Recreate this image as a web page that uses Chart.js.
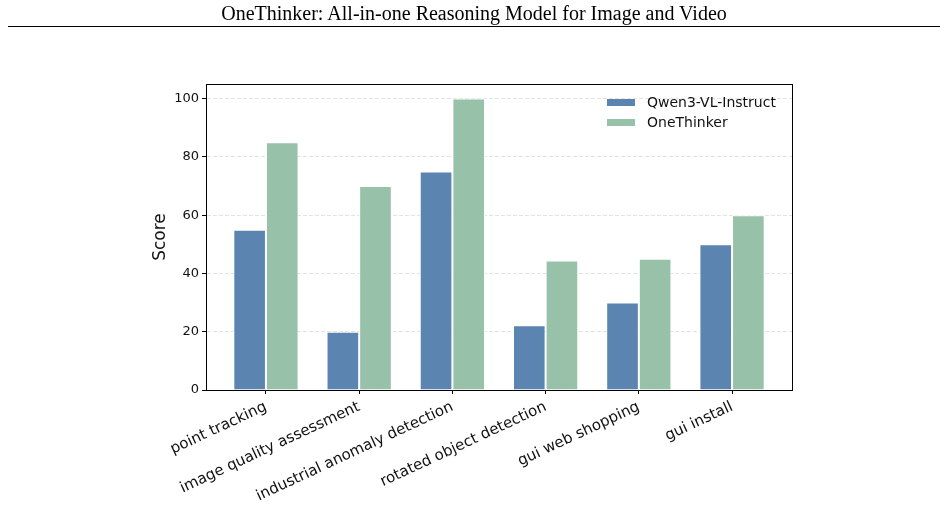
<!DOCTYPE html>
<html>
<head>
<meta charset="utf-8">
<script src="https://cdn.jsdelivr.net/npm/chart.js@4/dist/chart.umd.min.js"></script>
<style>
  html, body { margin: 0; padding: 0; background: #fff; }
  #page { position: relative; width: 948px; height: 507px; overflow: hidden; }
  #heading {
    position: absolute; left: 0; top: 2px; width: 948px; text-align: center;
    font-family: "Liberation Serif", "DejaVu Serif", serif; font-size: 20px; line-height: 22px; color: #000;
  }
  #rule { position: absolute; left: 8px; top: 25.5px; width: 932px; height: 1.5px; background: #000; }
  #chartBox { position: absolute; left: 0; top: 0; width: 948px; height: 507px; }
</style>
</head>
<body>
<div id="page">
  <div id="chartBox"><canvas id="scoreChart"></canvas></div>
  <div id="heading">OneThinker: All-in-one Reasoning Model for Image and Video</div>
  <div id="rule"></div>
</div>
<script>
'use strict';

// data
const categories = ['point tracking', 'image quality assessment', 'industrial anomaly detection',
  'rotated object detection', 'gui web shopping', 'gui install'];
const qwenScores = [55, 20, 75, 22.2, 30, 50];
const thinkerScores = [85, 70, 100, 44.4, 45, 60];
const yTicks = [0, 20, 40, 60, 80, 100];

const colors = {
  qwen: '#5b84b1',
  thinker: '#97c1a9',
  grid: '#e3e3e3',
  ink: '#111'
};

// box round the plot + legend in the upper right corner
const framePlugin = {
  id: 'frame',
  afterDraw(chart) {
    const { ctx, chartArea: a } = chart;
    ctx.save();
    ctx.strokeStyle = '#000';
    ctx.lineWidth = 1;
    ctx.strokeRect(Math.round(a.left) + 0.5, Math.round(a.top) + 0.5,
      Math.round(a.right - a.left), Math.round(a.bottom - a.top));

    // legend
    let y = a.top + 15;
    const x = a.right - 185;
    ctx.font = '14px "DejaVu Sans"';
    ctx.textBaseline = 'middle';
    ctx.textAlign = 'left';
    chart.data.datasets.forEach(ds => {
      ctx.fillStyle = ds.backgroundColor;
      ctx.fillRect(x, y, 28, 7);
      ctx.fillStyle = colors.ink;
      ctx.fillText(ds.label, x + 40, y + 4);
      y += 20;
    });
    ctx.restore();
  }
};

const toPoints = arr => arr.map((v, i) => ({ x: i, y: v }));

new Chart(document.getElementById('scoreChart'), {
  type: 'bar',
  data: {
    datasets: [{
      label: 'Qwen3-VL-Instruct',
      data: toPoints(qwenScores),
      backgroundColor: colors.qwen,
      borderColor: '#fff',
      borderWidth: 1,
      categoryPercentage: 0.7,
      barPercentage: 1
    }, {
      label: 'OneThinker',
      data: toPoints(thinkerScores),
      backgroundColor: colors.thinker,
      borderColor: '#fff',
      borderWidth: 1,
      categoryPercentage: 0.7,
      barPercentage: 1
    }]
  },
  options: {
    responsive: true,
    maintainAspectRatio: false,
    animation: false,
    layout: { padding: { left: 146, right: 156, top: 84, bottom: 0 } },
    plugins: {
      legend: { display: false },
      tooltip: { enabled: false }
    },
    scales: {
      x: {
        type: 'linear',
        min: -0.643,
        max: 5.643,
        offset: false,
        afterFit(scale) { scale.height = 117; },
        grid: { display: true, offset: false, drawOnChartArea: false, drawTicks: true, tickLength: 4, tickColor: '#000' },
        border: { display: true, color: '#000', width: 1 },
        ticks: {
          stepSize: 1,
          includeBounds: false,
          autoSkip: false,
          minRotation: 25,
          maxRotation: 25,
          padding: 4,
          color: colors.ink,
          font: { family: 'DejaVu Sans', size: 15 },
          callback: v => categories[v]
        }
      },
      y: {
        min: 0,
        max: 105,
        afterFit(scale) { scale.width = 60; },
        afterBuildTicks(scale) { scale.ticks = yTicks.map(v => ({ value: v })); },
        grid: { color: colors.grid, lineWidth: 1, drawTicks: true, tickLength: 4, tickColor: '#000', tickBorderDash: [] },
        border: { display: true, color: '#000', width: 1, dash: [4, 2] },
        ticks: { padding: 3, color: colors.ink, font: { family: 'DejaVu Sans', size: 13 } },
        title: {
          display: true,
          text: 'Score',
          color: colors.ink,
          font: { family: 'DejaVu Sans', size: 17 },
          padding: { top: 4, bottom: 4 }
        }
      }
    }
  },
  plugins: [framePlugin]
});
</script>
</body>
</html>
